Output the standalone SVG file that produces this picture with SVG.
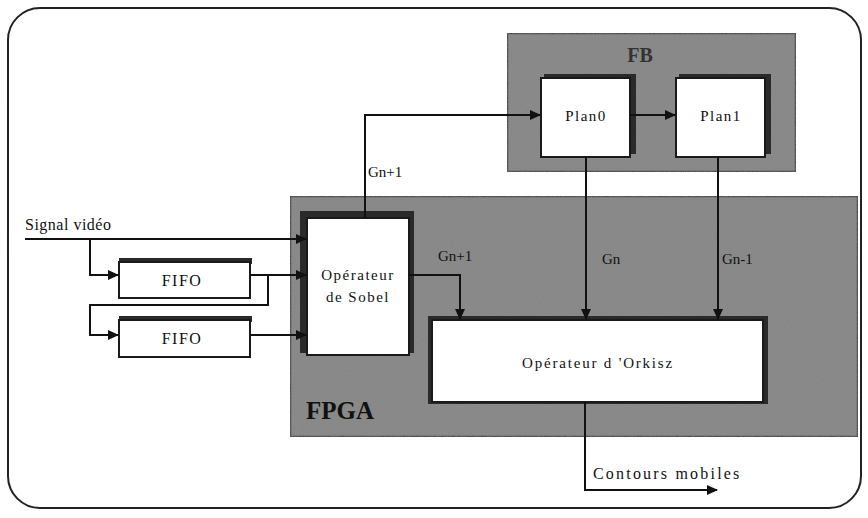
<svg xmlns="http://www.w3.org/2000/svg" width="868" height="518" viewBox="0 0 868 518">
<defs>
<marker id="ah" markerWidth="11" markerHeight="10" refX="10" refY="5" orient="auto" markerUnits="userSpaceOnUse">
<path d="M0,0 L11,5 L0,10 z" fill="#111"/>
</marker>
<filter id="grain" x="0" y="0" width="100%" height="100%">
<feTurbulence type="fractalNoise" baseFrequency="0.9" numOctaves="2" seed="3" result="n"/>
<feColorMatrix in="n" type="matrix" values="0 0 0 0 0.3  0 0 0 0 0.3  0 0 0 0 0.3  0 0 0 0.5 0" result="g"/>
<feComposite in="g" in2="SourceGraphic" operator="in" result="gi"/>
<feMerge><feMergeNode in="SourceGraphic"/><feMergeNode in="gi"/></feMerge>
</filter>
</defs>
<style>
.t{font-family:"Liberation Serif","Times New Roman",serif;font-size:15px;fill:#111}
.c{text-anchor:middle}
.gray{fill:#858585;stroke:#333;stroke-width:2.5}
.box{fill:#fff;stroke:#1a1a1a;stroke-width:2}
.sh{fill:#2a2a2a}
.ln{fill:none;stroke:#111;stroke-width:2}
</style>
<rect width="868" height="518" fill="#fff"/>
<rect x="8" y="8" width="853" height="500" rx="32" ry="32" fill="#fff" stroke="#222" stroke-width="2"/>

<g id="fpga">
<rect class="gray" x="290" y="196" width="568" height="241" filter="url(#grain)"/>
<text x="306" y="419" style="font-family:'Liberation Serif',serif;font-size:25px;font-weight:bold;fill:#111">FPGA</text>
</g>
<g id="fb">
<rect class="gray" x="507" y="33" width="289" height="139" filter="url(#grain)"/>
<text x="640" y="62" class="c" style="font-family:'Liberation Serif',serif;font-size:20px;font-weight:bold;fill:#333">FB</text>
</g>

<g id="plan0">
<rect class="sh" x="544" y="74" width="92" height="80"/>
<rect class="box" x="541" y="78" width="89" height="79"/>
<text class="t c" x="586" y="121" style="letter-spacing:1.5px">Plan0</text>
</g>
<g id="plan1">
<rect class="sh" x="679" y="74" width="92" height="80"/>
<rect class="box" x="676" y="78" width="89" height="79"/>
<text class="t c" x="721" y="121" style="letter-spacing:1.5px">Plan1</text>
</g>
<g id="sobel">
<rect class="sh" x="300" y="211" width="114" height="142"/>
<rect class="box" x="307" y="218" width="102" height="137"/>
<text class="t c" x="358" y="280" style="letter-spacing:1.5px">Opérateur</text>
<text class="t c" x="358" y="302" style="letter-spacing:1.5px">de Sobel</text>
</g>
<g id="orkisz">
<rect class="sh" x="428" y="316" width="340" height="88"/>
<rect class="box" x="432" y="320" width="331" height="82"/>
<text class="t c" x="598" y="368" style="letter-spacing:1.8px">Opérateur d 'Orkisz</text>
</g>
<g id="fifo1">
<rect class="sh" x="119" y="258" width="133" height="6"/>
<rect class="box" x="119" y="262" width="131" height="36"/>
<text class="t c" x="182" y="286" style="font-size:16px;letter-spacing:1.5px">FIFO</text>
</g>
<g id="fifo2">
<rect class="sh" x="119" y="316" width="133" height="6"/>
<rect class="box" x="119" y="320" width="131" height="37"/>
<text class="t c" x="182" y="344" style="font-size:16px;letter-spacing:1.5px">FIFO</text>
</g>

<g id="connectors">
<path class="ln" d="M25,239 H306" marker-end="url(#ah)"/>
<path class="ln" d="M90,239 V275 H118" marker-end="url(#ah)"/>
<path class="ln" d="M250,275 H306" marker-end="url(#ah)"/>
<path class="ln" d="M268,275 V305 H90 V335 H118" marker-end="url(#ah)"/>
<path class="ln" d="M250,335 H306" marker-end="url(#ah)"/>
<path class="ln" d="M365,218 V115 H540" marker-end="url(#ah)"/>
<path class="ln" d="M630,115 H675" marker-end="url(#ah)"/>
<path class="ln" d="M409,275 H460 V319" marker-end="url(#ah)"/>
<path class="ln" d="M586,157 V319" marker-end="url(#ah)"/>
<path class="ln" d="M718,157 V319" marker-end="url(#ah)"/>
<path class="ln" d="M585,402 V490 H717" marker-end="url(#ah)"/>
<text class="t" x="25" y="230" style="font-size:16px;letter-spacing:0.5px">Signal vidéo</text>
<text class="t" x="368" y="177">Gn+1</text>
<text class="t" x="438" y="261">Gn+1</text>
<text class="t" x="602" y="264">Gn</text>
<text class="t" x="722" y="264">Gn-1</text>
<text class="t" x="593" y="479" style="font-size:16px;letter-spacing:2.2px">Contours mobiles</text>
</g>
</svg>
